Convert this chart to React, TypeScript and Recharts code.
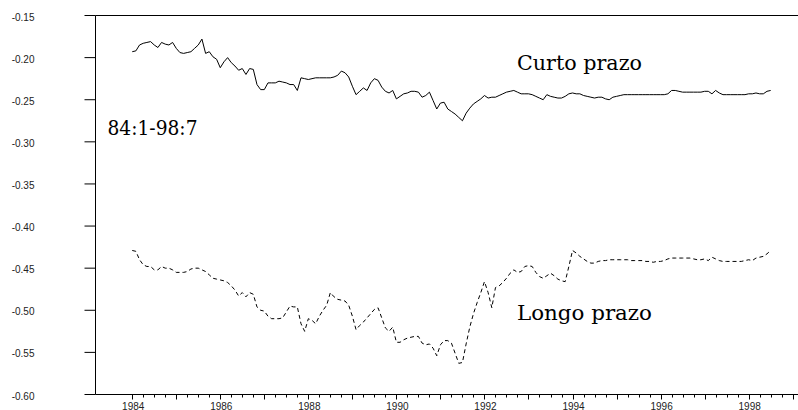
import { LineChart, Line, XAxis, YAxis, ReferenceLine } from 'recharts';

// monthly series, 1984:1 to 1998:7
const startYear = 1984;

const curtoPrazo = [
  -0.193, -0.192, -0.185, -0.183, -0.182, -0.181, -0.185, -0.188, -0.182, -0.184, -0.185, -0.182,
  -0.189, -0.194, -0.195, -0.194, -0.193, -0.189, -0.185, -0.178, -0.195, -0.193, -0.199, -0.202,
  -0.212, -0.205, -0.200, -0.206, -0.210, -0.215, -0.213, -0.220, -0.213, -0.214, -0.232, -0.238,
  -0.238, -0.230, -0.230, -0.230, -0.228, -0.229, -0.230, -0.232, -0.232, -0.239, -0.224, -0.225,
  -0.226, -0.225, -0.224, -0.224, -0.224, -0.224, -0.224, -0.223, -0.221, -0.216, -0.218, -0.223,
  -0.234, -0.244, -0.240, -0.236, -0.239, -0.230, -0.225, -0.227, -0.235, -0.240, -0.242, -0.239,
  -0.249, -0.246, -0.243, -0.242, -0.240, -0.240, -0.241, -0.247, -0.245, -0.241, -0.251, -0.261,
  -0.254, -0.253, -0.261, -0.264, -0.267, -0.271, -0.275, -0.266, -0.260, -0.255, -0.252, -0.249,
  -0.245, -0.248, -0.247, -0.247, -0.245, -0.243, -0.241, -0.240, -0.239, -0.241, -0.243, -0.243,
  -0.243, -0.244, -0.246, -0.248, -0.250, -0.244, -0.246, -0.247, -0.248, -0.248, -0.246, -0.243,
  -0.242, -0.243, -0.243, -0.245, -0.246, -0.247, -0.248, -0.247, -0.247, -0.249, -0.250, -0.247,
  -0.246, -0.245, -0.244, -0.244, -0.244, -0.244, -0.244, -0.244, -0.244, -0.244, -0.244, -0.244,
  -0.244, -0.244, -0.243, -0.239, -0.239, -0.240, -0.241, -0.241, -0.241, -0.241, -0.241, -0.241,
  -0.240, -0.240, -0.243, -0.239, -0.242, -0.244, -0.244, -0.244, -0.244, -0.244, -0.244, -0.244,
  -0.243, -0.243, -0.242, -0.243, -0.243, -0.240, -0.239,
];

const longoPrazo = [
  -0.429, -0.430, -0.440, -0.446, -0.448, -0.448, -0.452, -0.452, -0.448, -0.450, -0.450, -0.452,
  -0.455, -0.455, -0.455, -0.454, -0.451, -0.450, -0.450, -0.452, -0.454, -0.458, -0.462, -0.463,
  -0.464, -0.465, -0.467, -0.471, -0.476, -0.483, -0.479, -0.484, -0.479, -0.481, -0.496, -0.500,
  -0.501, -0.507, -0.510, -0.510, -0.510, -0.509, -0.502, -0.495, -0.496, -0.496, -0.516, -0.525,
  -0.510, -0.512, -0.516, -0.507, -0.500, -0.494, -0.479, -0.484, -0.487, -0.488, -0.489, -0.494,
  -0.507, -0.523, -0.518, -0.514, -0.509, -0.504, -0.499, -0.497, -0.509, -0.521, -0.525, -0.520,
  -0.538, -0.538, -0.535, -0.533, -0.532, -0.531, -0.531, -0.539, -0.541, -0.540, -0.545, -0.554,
  -0.541, -0.536, -0.536, -0.539, -0.551, -0.563, -0.562, -0.540, -0.520, -0.504, -0.491, -0.479,
  -0.466, -0.479, -0.497, -0.473, -0.471, -0.467, -0.462, -0.456, -0.452, -0.455, -0.454, -0.448,
  -0.447, -0.448, -0.455, -0.460, -0.462, -0.459, -0.456, -0.459, -0.463, -0.465, -0.466, -0.448,
  -0.429, -0.432, -0.436, -0.439, -0.442, -0.444, -0.444, -0.442, -0.441, -0.441, -0.440, -0.440,
  -0.440, -0.440, -0.440, -0.440, -0.441, -0.441, -0.441, -0.441, -0.442, -0.442, -0.443, -0.442,
  -0.442, -0.441, -0.439, -0.438, -0.438, -0.438, -0.438, -0.438, -0.438, -0.439, -0.440, -0.440,
  -0.439, -0.441, -0.437, -0.439, -0.441, -0.442, -0.442, -0.442, -0.442, -0.442, -0.442, -0.441,
  -0.440, -0.441, -0.438, -0.437, -0.436, -0.433, -0.429,
];

const yTicks = [-0.6, -0.55, -0.5, -0.45, -0.4, -0.35, -0.3, -0.25, -0.2, -0.15];
const tickYears = [1984, 1985, 1986, 1987, 1988, 1989, 1990, 1991, 1992, 1993, 1994, 1995, 1996, 1997, 1998, 1999];
const labelYears = [1984, 1986, 1988, 1990, 1992, 1994, 1996, 1998];

const data = curtoPrazo.map((v, i) => ({
  t: startYear + i / 12,
  curto: v,
  longo: longoPrazo[i],
}));

// yearly marks plus quarter marks in between
const xTicks = tickYears.flatMap((y) => (y === 1999 ? [y] : [y, y + 0.25, y + 0.5, y + 0.75]));

const axisFont = "'Liberation Sans', Arial, sans-serif";
const serifFont = "'DejaVu Serif', serif";

const XTick = (props: any) => {
  const { x, y, payload } = props;
  const v = payload.value as number;
  const year = Math.round(v);
  const isYear = Math.abs(v - year) < 1e-6;
  const px = Math.round(x) + 0.5;
  return (
    <g>
      <line x1={px} x2={px} y1={y} y2={y + (isYear ? 5 : 3)} stroke="#000" strokeWidth={1} />
      {isYear && labelYears.includes(year) && (
        <text x={x + 1} y={y + 15} textAnchor="middle" fontSize={10} fontFamily={axisFont} fill="#222">
          {year}
        </text>
      )}
    </g>
  );
};

const YTick = (props: any) => {
  const { x, y, payload } = props;
  return (
    <text x={x} y={y + 5} textAnchor="end" fontSize={10} fontFamily={axisFont} fill="#222">
      {(payload.value as number).toFixed(2)}
    </text>
  );
};

export default function App() {
  return (
    <div style={{ position: 'absolute', left: 0, top: 0, width: 798, height: 410, background: '#fff' }}>
      <LineChart width={798} height={410} data={data} margin={{ top: 15.5, right: 0, bottom: 0, left: 0 }}>
        <XAxis
          dataKey="t"
          type="number"
          domain={[1983.166, 1999.121]}
          allowDataOverflow
          ticks={xTicks}
          interval={0}
          height={15.5}
          tickSize={0}
          tickMargin={0}
          tickLine={false}
          tick={XTick}
          axisLine={{ stroke: '#000', strokeWidth: 1 }}
        />
        <YAxis
          type="number"
          domain={[-0.6, -0.15]}
          ticks={yTicks}
          interval={0}
          width={95.5}
          tickSize={11}
          tickMargin={50}
          tickLine={{ stroke: '#000', strokeWidth: 1 }}
          tick={YTick}
          axisLine={{ stroke: '#000', strokeWidth: 1 }}
        />
        <ReferenceLine y={-0.15} stroke="#000" strokeWidth={1} />
        <Line
          dataKey="curto"
          type="linear"
          stroke="#000"
          strokeWidth={1}
          dot={false}
          isAnimationActive={false}
        />
        <Line
          dataKey="longo"
          type="linear"
          stroke="#000"
          strokeWidth={1}
          strokeDasharray="4 3"
          dot={false}
          isAnimationActive={false}
        />
      </LineChart>
      <svg width={798} height={410} style={{ position: 'absolute', left: 0, top: 0, pointerEvents: 'none' }}>
        <text x={517} y={69.5} fontFamily={serifFont} fontSize={21} textLength={125} lengthAdjust="spacingAndGlyphs" fill="#000">
          Curto prazo
        </text>
        <text x={517} y={320} fontFamily={serifFont} fontSize={21} textLength={135} lengthAdjust="spacingAndGlyphs" fill="#000">
          Longo prazo
        </text>
        <text x={107.5} y={135} fontFamily={serifFont} fontSize={20.5} textLength={90} lengthAdjust="spacingAndGlyphs" fill="#000">
          84:1-98:7
        </text>
      </svg>
    </div>
  );
}
